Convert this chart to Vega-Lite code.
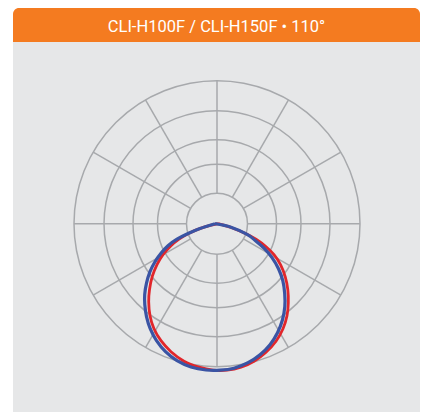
{
  "$schema": "https://vega.github.io/schema/vega-lite/v6.json",
  "width": 407,
  "height": 404,
  "padding": {"left": 13, "top": 8, "right": 3, "bottom": 0},
  "autosize": {"type": "none"},
  "background": "white",
  "config": {"view": {"stroke": null}, "axis": {"disable": true}},
  "datasets": {
    "rings": [{"r": 30.5}, {"r": 59.5}, {"r": 84}, {"r": 113}, {"r": 143}],
    "spokes": [
      {"x": 30.5, "y": 0, "x2": 143, "y2": 0},
      {"x": 26.41, "y": 15.25, "x2": 123.84, "y2": 71.5},
      {"x": 15.25, "y": 26.41, "x2": 71.5, "y2": 123.84},
      {"x": 0, "y": 30.5, "x2": 0, "y2": 143},
      {"x": -15.25, "y": 26.41, "x2": -71.5, "y2": 123.84},
      {"x": -26.41, "y": 15.25, "x2": -123.84, "y2": 71.5},
      {"x": -30.5, "y": 0, "x2": -143, "y2": 0},
      {"x": -26.41, "y": -15.25, "x2": -123.84, "y2": -71.5},
      {"x": -15.25, "y": -26.41, "x2": -71.5, "y2": -123.84},
      {"x": 0, "y": -30.5, "x2": 0, "y2": -143},
      {"x": 15.25, "y": -26.41, "x2": 71.5, "y2": -123.84},
      {"x": 26.41, "y": -15.25, "x2": 123.84, "y2": -71.5}
    ],
    "blue": [
      {"i": 0, "x": -2, "y": 0},
      {"i": 1, "x": -17, "y": -4.8},
      {"i": 2, "x": -30, "y": -10.3},
      {"i": 3, "x": -40, "y": -15.5},
      {"i": 4, "x": -49, "y": -22},
      {"i": 5, "x": -56, "y": -29.5},
      {"i": 6, "x": -62, "y": -38},
      {"i": 7, "x": -67, "y": -48},
      {"i": 8, "x": -70.5, "y": -59.5},
      {"i": 9, "x": -72.3, "y": -71},
      {"i": 10, "x": -72.2, "y": -81},
      {"i": 11, "x": -70.5, "y": -93},
      {"i": 12, "x": -66.8, "y": -105},
      {"i": 13, "x": -60.5, "y": -117},
      {"i": 14, "x": -51.5, "y": -128},
      {"i": 15, "x": -40, "y": -137},
      {"i": 16, "x": -26, "y": -143.3},
      {"i": 17, "x": -11, "y": -146.3},
      {"i": 18, "x": 3, "y": -146.5},
      {"i": 19, "x": 17, "y": -144.5},
      {"i": 20, "x": 31, "y": -139},
      {"i": 21, "x": 43, "y": -131},
      {"i": 22, "x": 53, "y": -121},
      {"i": 23, "x": 60.5, "y": -109},
      {"i": 24, "x": 65.5, "y": -96},
      {"i": 25, "x": 67.8, "y": -83},
      {"i": 26, "x": 67.7, "y": -70},
      {"i": 27, "x": 65.8, "y": -57},
      {"i": 28, "x": 61.5, "y": -45},
      {"i": 29, "x": 55, "y": -34},
      {"i": 30, "x": 47, "y": -24.5},
      {"i": 31, "x": 38.5, "y": -17},
      {"i": 32, "x": 29.7, "y": -10.5},
      {"i": 33, "x": 14, "y": -3.5},
      {"i": 34, "x": -2, "y": 0}
    ],
    "red": [
      {"i": 0, "x": 1, "y": 0},
      {"i": 1, "x": -13, "y": -3.5},
      {"i": 2, "x": -28, "y": -9.5},
      {"i": 3, "x": -38, "y": -15.5},
      {"i": 4, "x": -46.5, "y": -22.5},
      {"i": 5, "x": -54, "y": -31},
      {"i": 6, "x": -60, "y": -41},
      {"i": 7, "x": -64.8, "y": -53},
      {"i": 8, "x": -67.5, "y": -66},
      {"i": 9, "x": -68.3, "y": -78},
      {"i": 10, "x": -67, "y": -92},
      {"i": 11, "x": -63, "y": -105},
      {"i": 12, "x": -56, "y": -117},
      {"i": 13, "x": -46, "y": -128},
      {"i": 14, "x": -33, "y": -137.5},
      {"i": 15, "x": -18, "y": -143.5},
      {"i": 16, "x": -4, "y": -146.5},
      {"i": 17, "x": 10, "y": -146.5},
      {"i": 18, "x": 24, "y": -143.5},
      {"i": 19, "x": 37, "y": -137.5},
      {"i": 20, "x": 49, "y": -128.5},
      {"i": 21, "x": 59, "y": -117.5},
      {"i": 22, "x": 66, "y": -105},
      {"i": 23, "x": 70, "y": -92},
      {"i": 24, "x": 71.3, "y": -79},
      {"i": 25, "x": 70.8, "y": -66},
      {"i": 26, "x": 68.2, "y": -53},
      {"i": 27, "x": 63.5, "y": -41},
      {"i": 28, "x": 57, "y": -31},
      {"i": 29, "x": 48.5, "y": -22.5},
      {"i": 30, "x": 39, "y": -15.5},
      {"i": 31, "x": 30, "y": -10.5},
      {"i": 32, "x": 16, "y": -4.5},
      {"i": 33, "x": 1, "y": 0}
    ]
  },
  "layer": [
    {
      "data": {"values": [{}]},
      "mark": {"type": "rect", "color": "#E6E7E8"},
      "encoding": {
        "x": {"datum": -204, "type": "quantitative", "scale": {"domain": [-204, 203], "nice": false, "zero": false}, "axis": null},
        "x2": {"datum": 203},
        "y": {"datum": -188.3, "type": "quantitative", "scale": {"domain": [-188.3, 215.7], "nice": false, "zero": false}, "axis": null},
        "y2": {"datum": 181.7}
      }
    },
    {
      "data": {"values": [{}]},
      "mark": {"type": "rect", "color": "#F47B20", "cornerRadiusTopLeft": 6, "cornerRadiusTopRight": 6},
      "encoding": {
        "x": {"datum": -204, "type": "quantitative"},
        "x2": {"datum": 203},
        "y": {"datum": 181.7, "type": "quantitative"},
        "y2": {"datum": 215.7}
      }
    },
    {
      "data": {"values": [{}]},
      "mark": {"type": "text", "font": "Roboto, Liberation Sans, sans-serif", "fontSize": 16.5, "color": "white", "align": "center", "baseline": "alphabetic"},
      "encoding": {
        "x": {"datum": -0.5, "type": "quantitative"},
        "y": {"datum": 192, "type": "quantitative"},
        "text": {"value": "CLI-H100F / CLI-H150F • 110°"}
      }
    },
    {
      "data": {"name": "rings"},
      "mark": {"type": "arc", "theta": 0, "theta2": 6.2832, "fillOpacity": 0, "stroke": "#A7A9AC", "strokeWidth": 1.5},
      "encoding": {
        "x": {"datum": 0, "type": "quantitative"},
        "y": {"datum": 0, "type": "quantitative"},
        "radius": {"field": "r", "type": "quantitative", "stack": null, "scale": {"type": "linear", "domain": [0, 143], "range": [0, 143], "zero": true}}
      }
    },
    {
      "data": {"name": "spokes"},
      "mark": {"type": "rule", "color": "#A7A9AC", "strokeWidth": 1.5},
      "encoding": {
        "x": {"field": "x", "type": "quantitative"},
        "y": {"field": "y", "type": "quantitative"},
        "x2": {"field": "x2"},
        "y2": {"field": "y2"}
      }
    },
    {
      "data": {"name": "red"},
      "mark": {"type": "line", "color": "#E1262B", "strokeWidth": 2.8, "interpolate": "cardinal"},
      "encoding": {
        "x": {"field": "x", "type": "quantitative"},
        "y": {"field": "y", "type": "quantitative"},
        "order": {"field": "i", "type": "quantitative"}
      }
    },
    {
      "data": {"name": "blue"},
      "mark": {"type": "line", "color": "#3A54A4", "strokeWidth": 3.2, "interpolate": "cardinal"},
      "encoding": {
        "x": {"field": "x", "type": "quantitative"},
        "y": {"field": "y", "type": "quantitative"},
        "order": {"field": "i", "type": "quantitative"}
      }
    }
  ]
}
